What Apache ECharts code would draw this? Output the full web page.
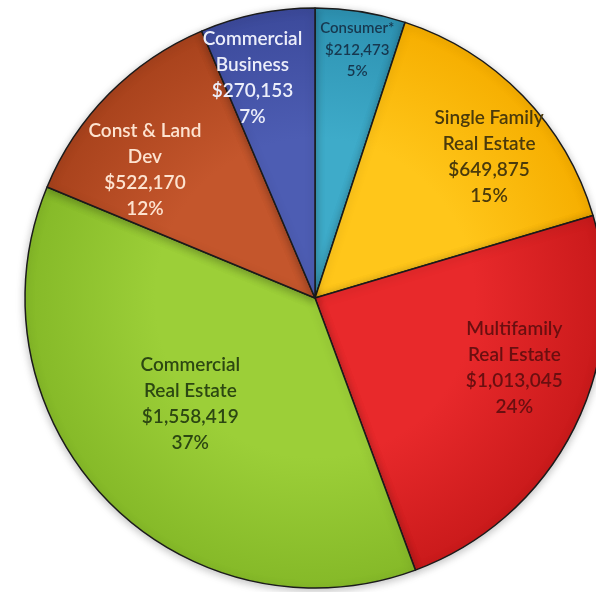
<!DOCTYPE html>
<html>
<head>
<meta charset="utf-8">
<script src="https://cdn.jsdelivr.net/npm/echarts@6/dist/echarts.min.js"></script>
<style>
  html, body { margin: 0; padding: 0; background: #fff; }
  #chart { width: 596px; height: 592px; }
</style>
</head>
<body>
<div id="chart"></div>
<script>
// loan portfolio by type, clockwise from 12 o'clock
const categories = ['Consumer*', 'Single Family\nReal Estate', 'Multifamily\nReal Estate',
  'Commercial\nReal Estate', 'Const & Land\nDev', 'Commercial\nBusiness']
const values = [212473, 649875, 1013045, 1558419, 522170, 270153]

// inner / rim colours of each slice
const innerColors = ['#3eabc9', '#ffc61a', '#e8292b', '#9ccf38', '#c4562c', '#4d5db3']
const rimColors = ['#2d91b1', '#f6ae00', '#ca1a1b', '#85b928', '#a8421c', '#3c4a9b']
const textColors = ['#17384f', '#4a3a0c', '#6a0f10', '#2c4712', '#fde3d0', '#eceefa']
// label nudges from the default inside position
const labelOffsets = [[19, -102], [68, -38], [67, 4], [-18, 3], [-65, -24], [-33, -75]]

const cx = 315
const cy = 298
const R = 290

const chart = echarts.init(document.getElementById('chart'))

const data = categories.map((name, i) => ({
  name: name,
  value: values[i],
  itemStyle: {
    color: new echarts.graphic.RadialGradient(cx, cy, R, [
      { offset: 0, color: innerColors[i] },
      { offset: 0.55, color: innerColors[i] },
      { offset: 1, color: rimColors[i] }
    ], true)
  },
  label: {
    color: textColors[i],
    offset: labelOffsets[i],
    fontSize: i === 0 ? 15 : 19,
    lineHeight: i === 0 ? 21.5 : 26
  }
}))

chart.setOption({
  animation: false,
  series: [{
    type: 'pie',
    center: [cx, cy],
    radius: R,
    startAngle: 90,
    clockwise: true,
    percentPrecision: 0,
    avoidLabelOverlap: false,
    itemStyle: {
      borderColor: '#1b1b1b',
      borderWidth: 1.5,
      shadowBlur: 8,
      shadowColor: 'rgba(0,0,0,0.25)',
      shadowOffsetY: 2
    },
    label: {
      position: 'inside',
      fontFamily: 'Lato',
      fontWeight: 600,
      align: 'center',
      formatter: p => p.name + '\n$' + p.value.toLocaleString('en-US') + '\n' + p.percent + '%'
    },
    labelLine: { show: false },
    emphasis: { disabled: true },
    data: data
  }]
})
</script>
</body>
</html>
